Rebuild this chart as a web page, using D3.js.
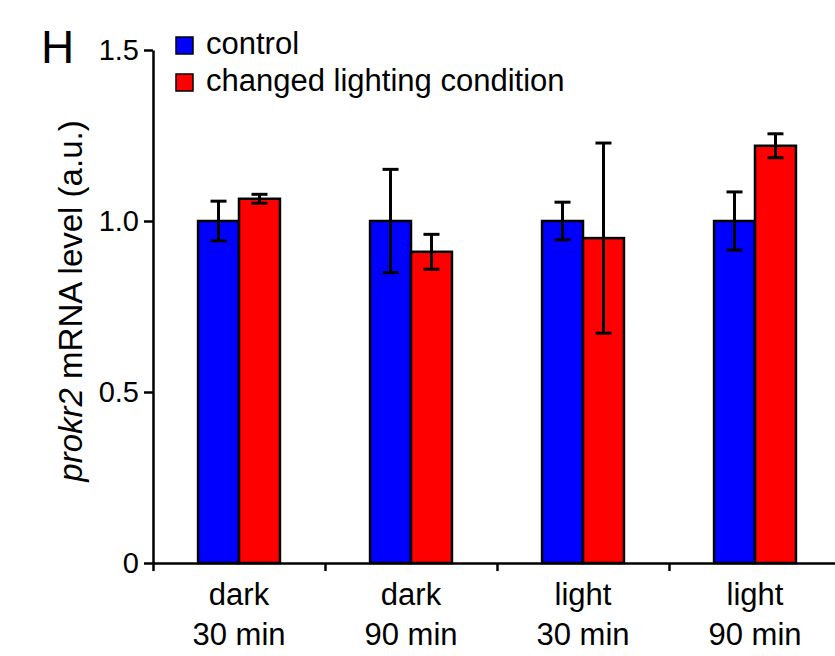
<!DOCTYPE html>
<html>
<head>
<meta charset="utf-8">
<script src="https://cdn.jsdelivr.net/npm/d3@7"></script>
<style>
  body{margin:0;background:#fff;}
  text{font-family:"Liberation Sans",Arial,sans-serif;fill:#000;}
</style>
</head>
<body>
<div id="chart"></div>
<script>
// data
const categories=[['dark','30 min'],['dark','90 min'],['light','30 min'],['light','90 min']];
const series=['control','changed lighting condition'];
const colors=['#0000ff','#ff0000'];
const control=[1.0,1.0,1.0,1.0];
const controlErr=[0.058,0.151,0.055,0.085];
const changed=[1.065,0.910,0.950,1.220];
const changedErr=[0.013,0.051,0.278,0.035];
const yTicks=[0,0.5,1.0,1.5];

const W=835,H=656;
const svg=d3.select('#chart').append('svg').attr('width',W).attr('height',H);
const m={t:50,l:153,b:93};
const ih=H-m.t-m.b;

const keys=categories.map(c=>c.join(' '));
const x=d3.scaleBand().domain(keys).range([m.l,m.l+172*4]);
const x1=d3.scaleBand().domain(series).range([0,x.bandwidth()]).paddingOuter(1.1);
const y=d3.scaleLinear().domain([0,1.5]).range([m.t+ih,m.t]);

const rows=[];
keys.forEach((k,i)=>{
  rows.push({k,s:series[0],v:control[i],e:controlErr[i],c:colors[0]});
  rows.push({k,s:series[1],v:changed[i],e:changedErr[i],c:colors[1]});
});

// bars
svg.append('g').selectAll('rect').data(rows).join('rect')
  .attr('x',d=>x(d.k)+x1(d.s)).attr('y',d=>y(d.v))
  .attr('width',x1.bandwidth()).attr('height',d=>y(0)-y(d.v))
  .attr('fill',d=>d.c).attr('stroke','#000').attr('stroke-width',2.5);

// error bars
const eb=svg.append('g').attr('stroke','#000').attr('stroke-width',3);
rows.forEach(d=>{
  const cx=x(d.k)+x1(d.s)+x1.bandwidth()/2;
  eb.append('line').attr('x1',cx).attr('x2',cx).attr('y1',y(d.v+d.e)).attr('y2',y(d.v-d.e));
  [d.v+d.e,d.v-d.e].forEach(v=>{
    eb.append('line').attr('x1',cx-8).attr('x2',cx+8).attr('y1',y(v)).attr('y2',y(v));
  });
});

// y axis
const ya=svg.append('g').attr('transform',`translate(${m.l},0)`)
  .call(d3.axisLeft(y).tickValues(yTicks).tickSize(9).tickSizeOuter(0).tickPadding(5)
    .tickFormat(d=>d===0?'0':d3.format('.1f')(d)));
ya.selectAll('path,line').attr('stroke','#000').attr('stroke-width',2.5);
ya.selectAll('text').attr('font-size',29).attr('font-family','"Liberation Sans",Arial,sans-serif');

// x axis: ticks at group boundaries
const xb=d3.scaleLinear().domain([0,keys.length]).range(x.range());
const xa=svg.append('g').attr('transform',`translate(0,${y(0)})`)
  .call(d3.axisBottom(xb).ticks(keys.length).tickSize(8).tickSizeOuter(0).tickFormat(''));
xa.selectAll('path,line').attr('stroke','#000').attr('stroke-width',2.5);

// category labels
const cl=svg.append('g');
categories.forEach((c,i)=>{
  const cx=x(keys[i])+x.bandwidth()/2;
  c.forEach((t,j)=>{
    cl.append('text').attr('x',cx).attr('y',y(0)+42+j*40).attr('text-anchor','middle')
      .attr('font-size',31).text(t);
  });
});

// y label
const yl=svg.append('text').attr('transform','translate(82,301) rotate(-90)')
  .attr('text-anchor','middle').attr('font-size',33);
yl.append('tspan').attr('font-style','italic').text('prokr2');
yl.append('tspan').text(' mRNA level (a.u.)');

// panel letter
svg.append('text').attr('x',41).attr('y',63).attr('font-size',46).text('H');

// legend
const lg=svg.append('g');
series.forEach((s,i)=>{
  lg.append('rect').attr('x',176).attr('y',37+i*37).attr('width',17).attr('height',17)
    .attr('fill',colors[i]).attr('stroke','#000').attr('stroke-width',1.5);
  lg.append('text').attr('x',206).attr('y',54+i*37).attr('font-size',31).text(s);
});
</script>
</body>
</html>
